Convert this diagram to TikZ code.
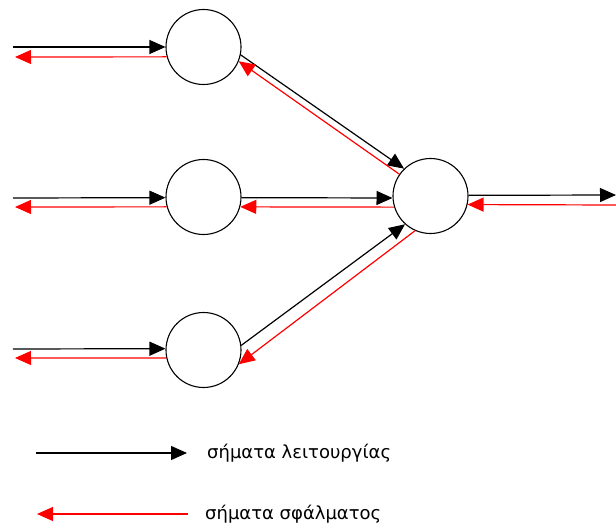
\documentclass[tikz,border=0pt]{standalone}
\usepackage{fontspec}
\setmainfont{DejaVu Sans}
\usetikzlibrary{arrows.meta}
\tikzset{
  neuron/.style={circle,draw=black,line width=1.1pt,minimum size=75pt,inner sep=0pt},
  blk/.style={draw=black,line width=1.2pt,-{Triangle[length=16pt,width=14pt]}},
  rd/.style={draw=red,line width=1.2pt,-{Triangle[length=16pt,width=14pt]}},
  legtext/.style={anchor=west,inner sep=0pt,font=\fontsize{18}{22}\selectfont}
}
\begin{document}
\begin{tikzpicture}[x=1pt,y=-1pt]
\useasboundingbox (0,0) rectangle (616,524);
% neurons
\node[neuron] (tl) at (203.5,47) {};
\node[neuron] (ml) at (203.5,197) {};
\node[neuron] (bl) at (203.5,350) {};
\node[neuron] (r) at (430.5,196) {};
% free ends
\coordinate (tlin) at (13,47);
\coordinate (tlout) at (15,57);
\coordinate (mlin) at (13,198);
\coordinate (mlout) at (15,207);
\coordinate (blin) at (13,349);
\coordinate (blout) at (15,358);
\coordinate (rout) at (616,195);
\coordinate (rin) at (616,205);
% left inputs
\draw[blk] (tlin) -- (tl.180);
\draw[rd] (tl.195.5) -- (tlout);
\draw[blk] (mlin) -- (ml.181.5);
\draw[rd] (ml.195.5) -- (mlout);
\draw[blk] (blin) -- (bl.178.5);
\draw[rd] (bl.192.3) -- (blout);
% to right neuron
\draw[blk] (tl.-12.4) -- (r.134);
\draw[rd] (r.145.3) -- (tl.-22.6);
\draw[blk] (ml.-1.5) -- (r.183.1);
\draw[rd] (r.197) -- (ml.-15.5);
\draw[blk] (bl.7.2) -- (r.228.4);
\draw[rd] (r.246.7) -- (bl.-22.3);
% output
\draw[blk] (r.1.5) -- (rout);
\draw[rd] (rin) -- (r.-13.9);
% legend
\coordinate (la1) at (36,453);
\coordinate (la2) at (187,453);
\coordinate (lb1) at (188,514);
\coordinate (lb2) at (37,514);
\draw[blk] (la1) -- (la2);
\draw[rd] (lb1) -- (lb2);
\node[legtext] (t1) at (207,453) {σήματα λειτουργίας};
\node[legtext] (t2) at (205,514) {σήματα σφάλματος};
\end{tikzpicture}
\end{document}
